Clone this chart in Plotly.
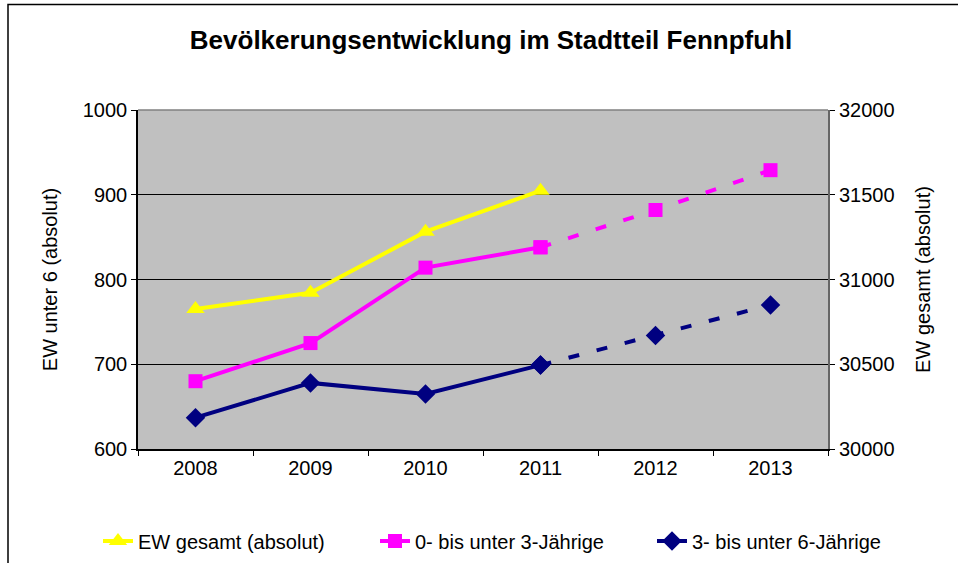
import plotly.graph_objects as go

years = ["2008", "2009", "2010", "2011", "2012", "2013"]
ew_gesamt = [30826, 30922, 31282, 31524]          # 2008-2011, right axis
u3_solid = [680, 725, 814, 838]                    # 2008-2011
u3_dash = [838, 882, 929]                          # 2011-2013
u6_solid = [637, 678, 665, 699]                    # 2008-2011
u6_dash = [699, 734, 770]                          # 2011-2013

names = ["EW gesamt (absolut)", "0- bis unter 3-Jährige", "3- bis unter 6-Jährige"]
c_yellow, c_mag, c_navy = "#FFFF00", "#FF00FF", "#000080"
FONT = "Liberation Sans, Arial, sans-serif"

fig = go.Figure()
fig.add_trace(go.Scatter(x=years[:4], y=ew_gesamt, name=names[0], yaxis="y2",
                         mode="lines+markers", line=dict(color=c_yellow, width=4),
                         marker=dict(symbol="triangle-up", size=16, color=c_yellow)))
fig.add_trace(go.Scatter(x=years[:4], y=u3_solid, name=names[1],
                         mode="lines+markers", line=dict(color=c_mag, width=4),
                         marker=dict(symbol="square", size=14, color=c_mag)))
fig.add_trace(go.Scatter(x=years[3:], y=u3_dash, name=names[1], showlegend=False,
                         mode="lines+markers", line=dict(color=c_mag, width=4, dash="11px,18px"),
                         marker=dict(symbol="square", size=14, color=c_mag)))
fig.add_trace(go.Scatter(x=years[:4], y=u6_solid, name=names[2],
                         mode="lines+markers", line=dict(color=c_navy, width=4),
                         marker=dict(symbol="diamond", size=15, color=c_navy)))
fig.add_trace(go.Scatter(x=years[3:], y=u6_dash, name=names[2], showlegend=False,
                         mode="lines+markers", line=dict(color=c_navy, width=4, dash="11px,18px"),
                         marker=dict(symbol="diamond", size=15, color=c_navy)))

fig.update_layout(
    width=958, height=563,
    margin=dict(l=138, r=130, t=110, b=114, autoexpand=False),
    paper_bgcolor="white", plot_bgcolor="#C0C0C0",
    font=dict(family=FONT, size=20, color="black"),
    title=dict(text="<b>Bevölkerungsentwicklung im Stadtteil Fennpfuhl</b>",
               x=491/958, xanchor="center", y=1-40/563, yanchor="middle",
               font=dict(size=26, family=FONT, color="black")),
    xaxis=dict(type="category", categoryorder="array", categoryarray=years,
               range=[-0.5, 5.5], tickson="boundaries", ticks="outside", ticklen=5,
               tickcolor="black", showline=True, linecolor="black", linewidth=1.5,
               showgrid=False, mirror=False, tickfont=dict(size=20)),
    yaxis=dict(range=[600, 1000], dtick=100, ticks="outside", ticklen=5, tickcolor="black",
               showline=True, linecolor="black", linewidth=1.5, showgrid=True,
               gridcolor="black", gridwidth=1, zeroline=False, tickfont=dict(size=20),
               title=dict(text="EW unter 6 (absolut)", standoff=20, font=dict(size=20))),
    yaxis2=dict(range=[30000, 32000], dtick=500, tickformat="d", overlaying="y", side="right",
                ticks="outside", ticklen=5, tickcolor="black", showline=True,
                linecolor="#666666", linewidth=2, showgrid=False, zeroline=False,
                tickfont=dict(size=20),
                title=dict(text="EW gesamt (absolut)", standoff=22, font=dict(size=20))),
    legend=dict(orientation="h", x=(98-138)/690, xanchor="left",
                y=(449-541)/339, yanchor="middle", font=dict(size=20),
                bgcolor="rgba(0,0,0,0)", itemwidth=30,
                entrywidth=232, entrywidthmode="pixels"),
    showlegend=True,
)

# plot-area top frame and chart outer border
fig.add_shape(type="line", xref="paper", yref="paper", x0=0, x1=1, y0=1, y1=1,
              line=dict(color="#808080", width=1.5))
fig.add_shape(type="rect", xref="paper", yref="paper",
              x0=(8-138)/690, x1=(975-138)/690, y0=(449-580)/339, y1=(449-4.5)/339,
              line=dict(color="black", width=1.5), layer="below")

fig.write_html("out.html", config={"displayModeBar": False},
               post_script=("document.body.style.margin='0';"
                            "document.body.style.overflow='hidden';"
                            "document.documentElement.style.overflow='hidden';"))
